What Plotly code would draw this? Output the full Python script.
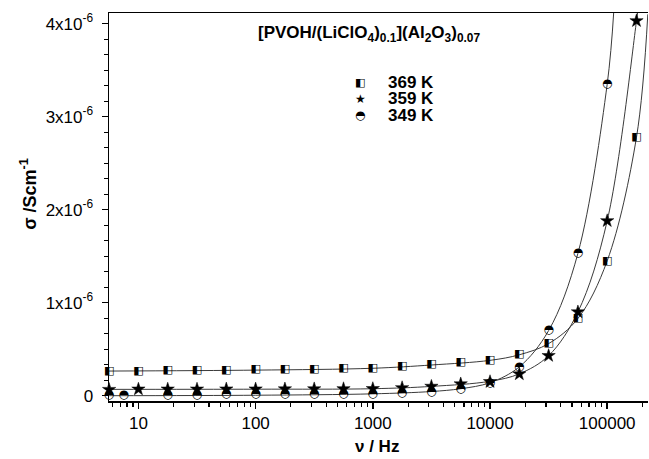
import plotly.graph_objects as go

# ---- data ----
freq = [5.62, 10, 17.78, 31.62, 56.23, 100, 177.8, 316.2, 562.3, 1000,
        1778, 3162, 5623, 10000, 17783, 31623, 56234, 100000, 177828]
sigma_369 = [0.26, 0.265, 0.27, 0.27, 0.275, 0.28, 0.28, 0.285, 0.29, 0.295,
             0.32, 0.337, 0.355, 0.386, 0.446, 0.568, 0.835, 1.447, 2.78]
sigma_359 = [0.066, 0.07, 0.07, 0.07, 0.071, 0.071, 0.072, 0.073, 0.074, 0.075,
             0.085, 0.10, 0.126, 0.15, 0.233, 0.43, 0.90, 1.88, 4.03]
freq_349 = [5.62, 7.5, 17.78, 31.62, 56.23, 100, 177.8, 316.2, 562.3, 1000,
            1778, 3162, 5623, 10000, 17783, 31623, 56234, 100000]
sigma_349 = [0.012, 0.004, 0.012, 0.012, 0.013, 0.013, 0.014, 0.015, 0.016, 0.02,
             0.03, 0.045, 0.069, 0.14, 0.31, 0.706, 1.536, 3.356]

# fitted curves
fit_369_x = [5.62, 100, 1000, 3162, 10000, 17783, 31623, 56234, 100000, 177828, 222000]
fit_369_y = [0.265, 0.275, 0.295, 0.33, 0.38, 0.44, 0.56, 0.83, 1.45, 2.78, 4.10]
fit_359_x = [5.62, 100, 1000, 3162, 10000, 17783, 31623, 56234, 100000, 177828, 185000]
fit_359_y = [0.068, 0.07, 0.075, 0.10, 0.155, 0.235, 0.43, 0.90, 1.88, 4.03, 4.20]
fit_349_x = [5.62, 100, 1000, 3162, 5623, 10000, 17783, 31623, 56234, 100000, 114000]
fit_349_y = [0.0, 0.005, 0.02, 0.045, 0.075, 0.14, 0.31, 0.70, 1.53, 3.35, 4.15]

scale = 1e-6
xticks = [10, 100, 1000, 10000, 100000]
xticktext = ["10", "100", "1000", "10000", "100000"]
xminor = [m * 10 ** k for k in range(0, 6) for m in range(2, 10)]
yticks = [0, 1e-6, 2e-6, 3e-6, 4e-6]
yticktext = ["0", "1x10<sup>-6</sup>", "2x10<sup>-6</sup>", "3x10<sup>-6</sup>", "4x10<sup>-6</sup>"]
labels = ["369 K", "359 K", "349 K"]
SQ, STAR, CIRC = "\u25e7", "\u2605", "\u25d3"

FONT = "Liberation Sans, Arial, sans-serif"
GLYPH_FONT = "DejaVu Sans"
LINE = "#3a3a3a"

fig = go.Figure()

for fx, fy in [(fit_369_x, fit_369_y), (fit_359_x, fit_359_y), (fit_349_x, fit_349_y)]:
    fig.add_trace(go.Scatter(x=fx, y=[v * scale for v in fy], mode="lines",
                             line=dict(color=LINE, width=1, shape="spline", smoothing=1.0),
                             showlegend=False, hoverinfo="skip"))

# 369 K : half-filled squares
fig.add_trace(go.Scatter(x=freq, y=[v * scale for v in sigma_369], mode="text", name=labels[0],
                         text=[SQ] * len(freq), textposition="middle center", cliponaxis=False,
                         textfont=dict(family=GLYPH_FONT, size=11, color="black"),
                         showlegend=False))
# 359 K : stars
fig.add_trace(go.Scatter(x=freq, y=[v * scale for v in sigma_359], mode="markers", name=labels[1],
                         marker=dict(symbol="star", size=10, color="black",
                                     line=dict(color="black", width=0.5)),
                         cliponaxis=False, showlegend=False))
# 349 K : half-filled circles
fig.add_trace(go.Scatter(x=freq_349, y=[v * scale for v in sigma_349], mode="text", name=labels[2],
                         text=[CIRC] * len(freq_349), textposition="middle center", cliponaxis=False,
                         textfont=dict(family=GLYPH_FONT, size=12, color="black"),
                         showlegend=False))

# plot area geometry in px (for paper-coordinate annotations)
L, R, T, B = 108.5, 648.0, 12.7, 401.0
W, H = R - L, B - T
def px(x):
    return (x - L) / W
def py(y):
    return (B - y) / H

ann = []
ann.append(dict(text="<b>[PVOH/(LiClO<sub>4</sub>)<sub>0.1</sub>](Al<sub>2</sub>O<sub>3</sub>)<sub>0.07</sub></b>",
                x=px(256), y=py(34), xref="paper", yref="paper", xanchor="left", yanchor="middle",
                showarrow=False, font=dict(family=FONT, size=17, color="black")))
glyphs = [SQ, STAR, CIRC]
gsize = [11, 12, 12]
rows = [82.5, 98.7, 115]
for g, gs, lab, ry in zip(glyphs, gsize, labels, rows):
    ann.append(dict(text=g, x=px(360), y=py(ry), xref="paper", yref="paper",
                    xanchor="center", yanchor="middle", showarrow=False,
                    font=dict(family=GLYPH_FONT, size=gs, color="black")))
    ann.append(dict(text="<b>" + lab + "</b>", x=px(386), y=py(ry), xref="paper", yref="paper",
                    xanchor="left", yanchor="middle", showarrow=False,
                    font=dict(family=FONT, size=17, color="black")))
ann.append(dict(text="<b>\u03bd / Hz</b>", x=px(377), y=py(447), xref="paper", yref="paper",
                xanchor="center", yanchor="middle", showarrow=False,
                font=dict(family=FONT, size=17, color="black")))
ann.append(dict(text="<b>\u03c3 /Scm<sup>-1</sup></b>", x=px(28), y=py(194), xref="paper", yref="paper",
                xanchor="center", yanchor="middle", showarrow=False, textangle=-90,
                font=dict(family=FONT, size=18, color="black")))

fig.update_layout(
    width=649, height=459,
    margin=dict(l=L, r=649 - R, t=T, b=459 - B),
    paper_bgcolor="white", plot_bgcolor="white",
    font=dict(family=FONT, size=17, color="black"),
    annotations=ann,
    showlegend=False,
    hovermode=False,
)
fig.update_xaxes(type="log", range=[0.749, 5.348],
                 tickmode="array", tickvals=xticks, ticktext=xticktext,
                 ticks="outside", ticklen=6, tickwidth=1.5, tickcolor="black",
                 minor=dict(tickmode="array", tickvals=xminor, ticks="outside", ticklen=4,
                            tickwidth=1.2, tickcolor="black", showgrid=False),
                 showline=True, linecolor="black", linewidth=1.5, mirror=True,
                 showgrid=False, zeroline=False,
                 tickfont=dict(family=FONT, size=17, color="black"))
fig.update_yaxes(range=[-0.057e-6, 4.114e-6],
                 tickmode="array", tickvals=yticks, ticktext=yticktext,
                 ticks="outside", ticklen=6, tickwidth=1.5, tickcolor="black",
                 ticklabelstandoff=5,
                 minor=dict(dtick=1e-6 / 6, tick0=0, ticks="outside", ticklen=4,
                            tickwidth=1.2, tickcolor="black", showgrid=False),
                 showline=True, linecolor="black", linewidth=1.5, mirror=False,
                 showgrid=False, zeroline=False,
                 tickfont=dict(family=FONT, size=17, color="black"))

# remove the browser's default 8px page margin so the figure fills the window exactly
fig.write_html("out.html",
               config={"displayModeBar": False, "staticPlot": True},
               post_script="document.body.style.margin='0';document.body.style.padding='0';"
                           "document.documentElement.style.overflow='hidden';")
